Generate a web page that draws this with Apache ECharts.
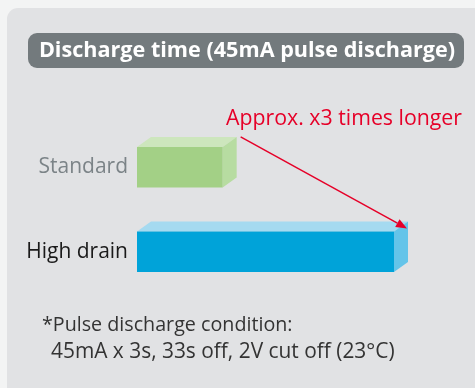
<!DOCTYPE html>
<html>
<head>
<meta charset="utf-8">
<style>
  html, body { margin: 0; padding: 0; background: #f3f4f4; }
  #chart { width: 475px; height: 388px; }
</style>
<script src="https://cdn.jsdelivr.net/npm/echarts@6/dist/echarts.min.js"></script>
</head>
<body>
<div id="chart"></div>
<script>
// Battery types and their relative discharge time
const categories = ['Standard', 'High drain'];
const dischargeTime = [1, 3];
const labelColors = ['#7b8387', '#1a1a1a'];
const faceColors = [
  { front: '#a3d086', top: '#cde6bd', side: '#b7dca1' },
  { front: '#00a3d9', top: '#a5daf0', side: '#64c4e9' }
];
const titleText = 'Discharge time (45mA pulse discharge)';
const calloutText = 'Approx. x3 times longer';
const noteLines = ['*Pulse discharge condition:', '45mA x 3s, 33s off, 2V cut off (23°C)'];

const FONT = '"Open Sans", "Noto Sans", sans-serif';
const chart = echarts.init(document.getElementById('chart'));

// Bar drawn as a box: front face, top face and right side face
function renderBox(params, api) {
  const idx = api.value(0);
  const val = api.value(1);
  const start = api.coord([0, idx]);
  const end = api.coord([val, idx]);
  const band = api.size([0, 1])[1];
  const h = band * 0.48;
  const dx = 14, dy = 10;
  const x0 = start[0], x1 = end[0];
  const y0 = start[1] - h / 2, y1 = start[1] + h / 2;
  const c = faceColors[idx];
  return {
    type: 'group',
    children: [
      { type: 'polygon', shape: { points: [[x0, y0], [x0 + dx, y0 - dy], [x1 + dx, y0 - dy], [x1, y0]] },
        style: { fill: c.top } },
      { type: 'polygon', shape: { points: [[x1, y0], [x1 + dx, y0 - dy], [x1 + dx, y1 - dy], [x1, y1]] },
        style: { fill: c.side } },
      { type: 'rect', shape: { x: x0, y: y0, width: x1 - x0, height: y1 - y0 },
        style: { fill: c.front } }
    ]
  };
}

const option = {
  animation: false,
  backgroundColor: '#f3f4f4',
  grid: { left: 137, right: 81, top: 125, bottom: 94 },
  xAxis: {
    type: 'value', min: 0, max: 3,
    show: false
  },
  yAxis: {
    type: 'category', data: categories, inverse: true,
    axisLine: { show: false }, axisTick: { show: false }, splitLine: { show: false },
    axisLabel: {
      margin: 9, fontSize: 21, fontFamily: FONT,
      color: (v, i) => labelColors[i]
    }
  },
  series: [{
    type: 'custom',
    renderItem: renderBox,
    data: dischargeTime.map((v, i) => [i, v]),
    encode: { x: 1, y: 0 },
    z: 3
  }]
};
chart.setOption(option);

// Annotation layer positioned from the bars' own coordinates
const pStd = chart.convertToPixel({ gridIndex: 0 }, [dischargeTime[0], 0]);
const pHigh = chart.convertToPixel({ gridIndex: 0 }, [dischargeTime[1], 1]);
const band = 84.7 * 0.48;
const a0 = [pStd[0] + 18, pStd[1] - band / 2 - 10];
const a1 = [pHigh[0] + 13, pHigh[1] - band / 2 - 3];
const ang = Math.atan2(a1[1] - a0[1], a1[0] - a0[0]);
const hl = 11, hw = 4.5;
const base = [a1[0] - hl * Math.cos(ang), a1[1] - hl * Math.sin(ang)];
const head = [
  a1,
  [base[0] + hw * Math.sin(ang), base[1] - hw * Math.cos(ang)],
  [base[0] - hw * Math.sin(ang), base[1] + hw * Math.cos(ang)]
];

chart.setOption({
  graphic: [
    { type: 'rect', z: -10, silent: true,
      shape: { x: 7, y: 8, width: 490, height: 400, r: 11 },
      style: { fill: '#e1e2e4' } },
    { type: 'rect', z: 1,
      shape: { x: 28, y: 33, width: 436, height: 35, r: 9 },
      style: { fill: '#737a7d' } },
    { type: 'text', z: 2, x: 247, y: 51,
      style: { text: titleText, fill: '#ffffff', font: 'bold 21.6px ' + FONT,
               align: 'center', verticalAlign: 'middle' } },
    { type: 'text', z: 2, x: 462, y: 119,
      style: { text: calloutText, fill: '#e60028', font: '21.3px ' + FONT,
               align: 'right', verticalAlign: 'middle' } },
    { type: 'line', z: 5,
      shape: { x1: a0[0], y1: a0[1], x2: base[0], y2: base[1] },
      style: { stroke: '#e60028', lineWidth: 1.5 } },
    { type: 'polygon', z: 5, shape: { points: head }, style: { fill: '#e60028' } },
    { type: 'text', z: 2, x: 42, y: 325,
      style: { text: noteLines[0], fill: '#333333', font: '19.7px ' + FONT,
               verticalAlign: 'middle' } },
    { type: 'text', z: 2, x: 51, y: 352,
      style: { text: noteLines[1], fill: '#333333', font: '20.9px ' + FONT,
               verticalAlign: 'middle' } }
  ]
});
</script>
</body>
</html>
